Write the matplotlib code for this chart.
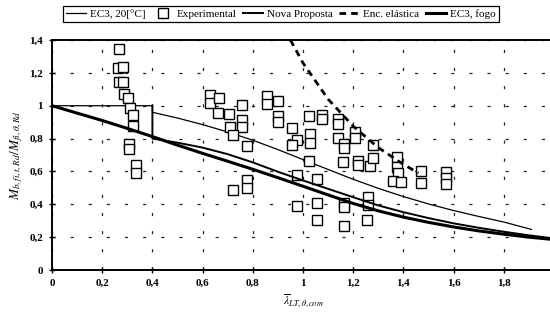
import matplotlib
matplotlib.use("Agg")
import matplotlib.pyplot as plt

plt.rcParams['font.family'] = ['Liberation Serif', 'DejaVu Serif']
plt.rcParams['mathtext.fontset'] = 'stix'

# ---- data ----
exp_x = [0.268, 0.262, 0.282, 0.268, 0.282, 0.287, 0.304, 0.311, 0.321, 0.321,
         0.308, 0.308, 0.333, 0.333,
         0.629, 0.629, 0.667, 0.756, 0.855, 0.855, 0.663, 0.706, 0.756, 0.709,
         0.756, 0.722, 0.778, 0.778, 0.778, 0.720,
         0.902, 0.902, 0.902, 1.025, 1.075, 1.075, 0.957, 1.028, 1.028, 0.975,
         0.957, 1.141, 1.141, 1.141, 1.163, 1.163, 1.207, 1.207, 1.025, 1.161,
         1.220, 1.220, 1.265, 0.977, 1.055,
         1.280, 1.280, 1.373, 1.373, 1.380, 1.357, 1.389, 1.470, 1.470, 1.570,
         1.570, 1.570,
         1.165, 1.165, 1.260, 1.260, 0.977, 1.055, 1.055, 1.256, 1.165]
exp_y = [1.343, 1.232, 1.236, 1.142, 1.145, 1.073, 1.045, 0.985, 0.941, 0.875,
         0.768, 0.734, 0.642, 0.591,
         1.063, 1.016, 1.047, 1.006, 1.057, 1.010, 0.955, 0.949, 0.915, 0.868,
         0.868, 0.823, 0.752, 0.548, 0.500, 0.486,
         1.026, 0.935, 0.901, 0.935, 0.941, 0.920, 0.866, 0.830, 0.775, 0.793,
         0.760, 0.919, 0.889, 0.803, 0.766, 0.742, 0.837, 0.803, 0.665, 0.660,
         0.665, 0.640, 0.635, 0.577, 0.551,
         0.758, 0.680, 0.685, 0.630, 0.590, 0.540, 0.538, 0.604, 0.532, 0.596,
         0.560, 0.525,
         0.410, 0.382, 0.443, 0.396, 0.392, 0.407, 0.305, 0.305, 0.270]

ec3_20_x = [0.0, 0.4, 0.4, 0.5, 0.6, 0.7, 0.8, 0.9, 1.0, 1.1, 1.2, 1.3, 1.4,
            1.5, 1.6, 1.7, 1.8, 1.91]
ec3_20_y = [1.0, 1.0, 0.96, 0.925, 0.885, 0.84, 0.79, 0.733, 0.672, 0.612,
            0.552, 0.497, 0.447, 0.402, 0.362, 0.326, 0.292, 0.247]

nova_x = [0.4, 0.4, 0.5, 0.6, 0.7, 0.8, 0.9, 1.0, 1.1, 1.2, 1.3, 1.4, 1.5, 1.6,
          1.7, 1.8, 1.9, 2.0]
nova_y = [1.0, 0.80, 0.775, 0.745, 0.705, 0.655, 0.598, 0.545, 0.494, 0.443,
          0.393, 0.352, 0.316, 0.284, 0.257, 0.233, 0.211, 0.192]

fogo_x = [0.0, 0.1, 0.2, 0.3, 0.4, 0.5, 0.6, 0.7, 0.8, 0.9, 1.0, 1.1, 1.2, 1.3,
          1.4, 1.5, 1.6, 1.7, 1.8, 1.9, 2.0]
fogo_y = [1.0, 0.955, 0.91, 0.862, 0.812, 0.76, 0.71, 0.662, 0.613, 0.562,
          0.51, 0.457, 0.405, 0.36, 0.322, 0.29, 0.262, 0.238, 0.218, 0.20, 0.185]

elast_x = [0.95, 1.0, 1.1, 1.2, 1.3, 1.4, 1.46]
elast_y = [1.40, 1.26, 1.04, 0.875, 0.745, 0.643, 0.59]

xticks = [0, 0.2, 0.4, 0.6, 0.8, 1.0, 1.2, 1.4, 1.6, 1.8]
xtick_labels = ['0', '0,2', '0,4', '0,6', '0,8', '1', '1,2', '1,4', '1,6', '1,8']
yticks = [0, 0.2, 0.4, 0.6, 0.8, 1.0, 1.2, 1.4]
ytick_labels = ['0', '0,2', '0,4', '0,6', '0,8', '1', '1,2', '1,4']

# ---- figure ----
W, H = 550, 319
fig = plt.figure(figsize=(W / 100, H / 100), dpi=100)
ax = fig.add_axes([52 / W, 49 / H, (554 - 52) / W, 230 / H])
ax.set_xlim(0, 2)
ax.set_ylim(0, 1.4)

ax.set_xticks(xticks)
ax.set_xticklabels(xtick_labels)
ax.set_yticks(yticks)
ax.set_yticklabels(ytick_labels)
ax.tick_params(direction='inout', length=5, width=1, labelsize=8, pad=4,
               colors='black')
for lab in ax.get_xticklabels() + ax.get_yticklabels():
    lab.set_fontweight('bold')

ax.grid(True, color='#222222', linewidth=0.9, linestyle=(0, (2.5, 12.0)))
ax.set_axisbelow(True)

for s in ['left', 'bottom', 'top']:
    ax.spines[s].set_linewidth(1.4)
ax.spines['right'].set_visible(False)

l_20, = ax.plot(ec3_20_x, ec3_20_y, color='black', lw=0.9, label='EC3, 20[°C]')
sc, = ax.plot(exp_x, exp_y, linestyle='none', marker='s', markersize=6.5,
              markerfacecolor='white', markeredgecolor='black',
              markeredgewidth=1.0, label='Experimental')
l_nova, = ax.plot(nova_x, nova_y, color='black', lw=1.4, label='Nova Proposta')
l_el, = ax.plot(elast_x, elast_y, color='black', lw=2.0,
                linestyle=(0, (2.4, 1.8)), label='Enc. elástica')
l_fogo, = ax.plot(fogo_x, fogo_y, color='black', lw=2.2, label='EC3, fogo')

ax.set_xlabel(r'$\overline{\lambda}_{LT,\theta,com}$', fontsize=8.5, labelpad=3)
ax.set_ylabel(r'$M_{b,fi,t,Rd}/M_{fi,\theta,Rd}$', fontsize=9.5, labelpad=3)

leg = fig.legend(handles=[l_20, sc, l_nova, l_el, l_fogo], ncol=5,
                 loc='upper center', bbox_to_anchor=(281 / W, 1 - 6 / H),
                 fontsize=8.0, frameon=True, fancybox=False, edgecolor='black',
                 framealpha=1, borderpad=0.3, handlelength=1.8,
                 handletextpad=0.35, columnspacing=0.6, borderaxespad=0)
leg.get_frame().set_linewidth(0.9)

fig.savefig('out.png', dpi=100)
